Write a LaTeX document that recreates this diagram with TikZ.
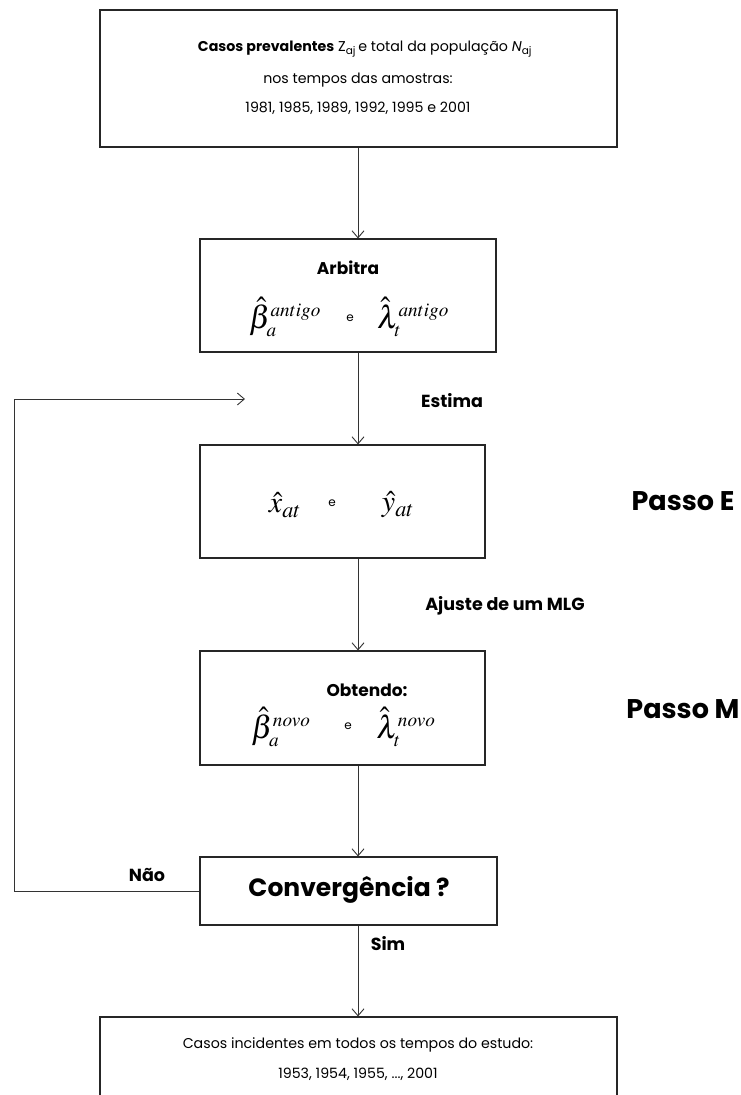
\documentclass[tikz,border=0pt]{standalone}
\usepackage{mathptmx}
\usepackage{fontspec}
\setmainfont{Poppins}
\usetikzlibrary{arrows.meta}

\tikzset{
  box/.style={draw=black!85, line width=1.1pt, inner sep=0pt},
  lbl/.style={font=\fontsize{17.5}{20}\selectfont\bfseries, inner sep=0pt},
  head/.style={font=\fontsize{17}{20}\selectfont\bfseries, inner sep=0pt},
  passo/.style={font=\fontsize{27}{30}\selectfont\bfseries, inner sep=0pt},
  txt/.style={font=\fontsize{14.2}{18}\selectfont, inner sep=0pt},
  etxt/.style={font=\fontsize{12}{14}\selectfont, inner sep=0pt},
  frm/.style={font=\fontsize{32}{36}\selectfont, inner sep=0pt},
  frmx/.style={font=\fontsize{30}{34}\selectfont, inner sep=0pt},
  flow/.style={-{Straight Barb[length=7pt,width=12pt]}, line width=0.9pt, black!80},
  link/.style={line width=0.9pt, black!80}
}
\newcommand{\est}[3]{$\hat{#1}_{\scriptscriptstyle #2}^{\scriptscriptstyle #3}$}

\begin{document}
\begin{tikzpicture}[x=1pt, y=-1pt]
\useasboundingbox (0,0) rectangle (740,1095);

% Boxes (positions taken straight from the layout)
\node[box, minimum width=517pt, minimum height=137pt] (prev) at (358.5,78.5) {};
\node[box, minimum width=296pt, minimum height=113pt] (arb) at (348,295.5) {};
\node[box, minimum width=285pt, minimum height=113pt] (est) at (342.5,501.5) {};
\node[box, minimum width=285pt, minimum height=114pt] (obt) at (342.5,708) {};
\node[box, minimum width=297pt, minimum height=68pt] (conv) at (348.5,891) {};
\node[box, minimum width=517pt, minimum height=120pt] (inc) at (358.5,1077) {};

% Top box text
\node[txt] (prevA) at (365,49) {\textbf{Casos prevalentes} Z\textsubscript{aj}\,e total da população \textit{N}\textsubscript{aj}};
\node[txt] (prevB) at (358,80) {nos tempos das amostras:};
\node[txt] (prevC) at (358,108) {1981, 1985, 1989, 1992, 1995 e 2001};

% Arbitra
\node[head] (arbT) at (348,268) {Arbitra};
\node[frm] (betaA) at (285,317) {\est{\beta}{a}{antigo}};
\node[etxt] (eA) at (350,318) {e};
\node[frm] (lamA) at (413,317) {\est{\lambda}{t}{antigo}};

% Passo E box
\node[frmx] (xhat) at (285,505) {$\hat{x}_{at}$};
\node[etxt] (eE) at (332,503) {e};
\node[frmx] (yhat) at (398,505) {$\hat{y}_{at}$};

% Obtendo
\node[head] (obtT) at (367,690) {Obtendo:};
\node[frm] (betaN) at (281,727) {\est{\beta}{a}{novo}};
\node[etxt] (eM) at (348,726) {e};
\node[frm] (lamN) at (406,727) {\est{\lambda}{t}{novo}};

% Convergence
\node[passo, font=\fontsize{25}{28}\selectfont\bfseries] (convT) at (349,890) {Convergência ?};

% Bottom box text
\node[txt] (incA) at (358,1045) {Casos incidentes em todos os tempos do estudo:};
\node[txt] (incB) at (358,1074) {1953, 1954, 1955, ..., 2001};

% Side labels
\node[lbl] (estima) at (452,401) {Estima};
\node[lbl] (ajuste) at (505,606) {Ajuste de um MLG};
\node[lbl] (nao) at (147,875) {Não};
\node[lbl] (sim) at (388,944) {Sim};
\node[passo] (passoE) at (683,501) {Passo E};
\node[passo] (passoM) at (683,709) {Passo M};

% Main spine
\coordinate (spine) at (358,0);
\draw[flow] (prev.south -| spine) -- (arb.north -| spine);
\draw[flow] (arb.south -| spine) -- (est.north -| spine);
\draw[flow] (est.south -| spine) -- (obt.north -| spine);
\draw[flow] (obt.south -| spine) -- (conv.north -| spine);
\draw[flow] (conv.south -| spine) -- (inc.north -| spine);

% Feedback loop
\coordinate (back) at (245,399);
\draw[link] (conv.west) -| (14,399);
\draw[flow] (14,399) -- (back);

\end{tikzpicture}
\end{document}
